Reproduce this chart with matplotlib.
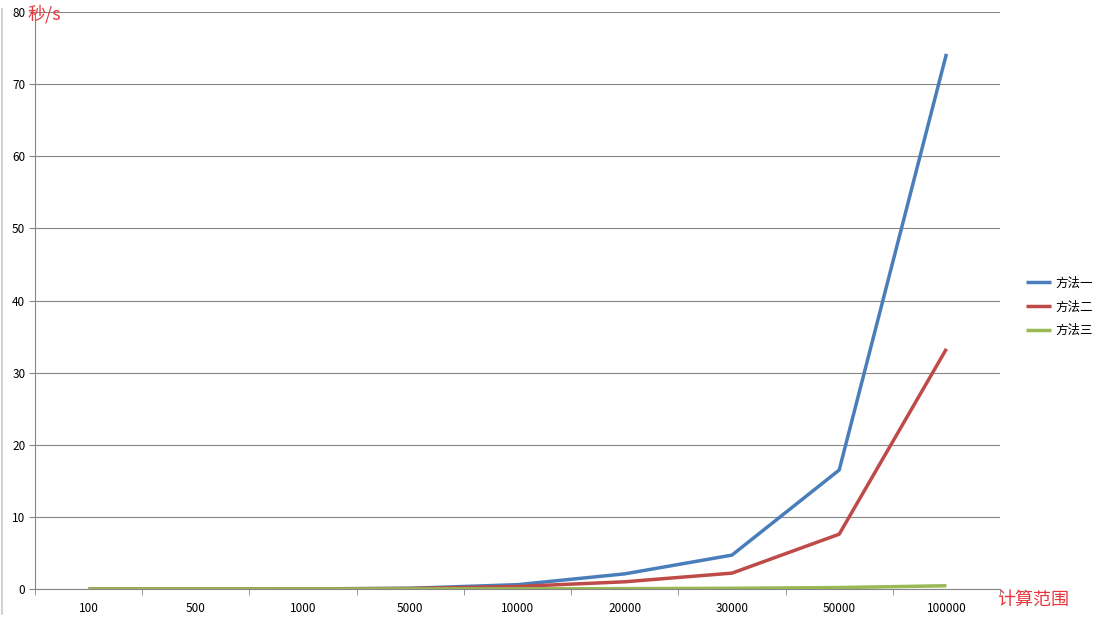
import matplotlib
matplotlib.use('Agg')
import matplotlib.pyplot as plt
from matplotlib.lines import Line2D
import numpy as np

plt.rcParams['font.family'] = ['Noto Sans CJK SC', 'DejaVu Sans']

categories = ['100', '500', '1000', '5000', '10000', '20000', '30000', '50000', '100000']
method1 = [0.0, 0.0, 0.01, 0.1, 0.6, 2.1, 4.7, 16.5, 74.2]
method2 = [0.0, 0.0, 0.01, 0.07, 0.35, 1.0, 2.2, 7.6, 33.3]
method3 = [0.0, 0.0, 0.0, 0.01, 0.02, 0.05, 0.1, 0.2, 0.45]
names = ['方法一', '方法二', '方法三']
colors = ['#4A7EBB', '#BE4B48', '#98B954']

fig = plt.figure(figsize=(11.01, 6.2), dpi=100)
ax = fig.add_axes([0.0318, 0.05, 0.9083 - 0.0318, 0.9806 - 0.05])

# left edge of the chart border
fig.lines.append(Line2D([2 / 1101, 2 / 1101], [0.01, 0.985], transform=fig.transFigure,
                        color='#c8c8c8', lw=1.2))

x = np.arange(len(categories))
for vals, name, c in zip([method1, method2, method3], names, colors):
    ax.plot(x, vals, color=c, lw=2.5, label=name, solid_capstyle='butt')

ax.set_xlim(-0.5, len(categories) - 0.5)
ax.set_ylim(0, 80)
ax.set_yticks(range(0, 81, 10))
ax.yaxis.grid(True, color='#868686', lw=0.8)
ax.set_axisbelow(True)
ax.set_xticks(x)
ax.set_xticklabels(categories)
ax.set_xticks(np.arange(-0.5, len(categories), 1), minor=True)
ax.tick_params(axis='x', which='major', length=0, pad=9, labelsize=8.5)
ax.tick_params(axis='x', which='minor', length=4, color='#868686', direction='out')
ax.tick_params(axis='y', length=4, color='#868686', labelsize=8.5, pad=3)
for s in ['top', 'right']:
    ax.spines[s].set_visible(False)
for s in ['left', 'bottom']:
    ax.spines[s].set_color('#868686')
    ax.spines[s].set_linewidth(0.8)

fig.text(27 / 1101, 1 - 14 / 620, '秒/s', color='#E8383D', fontsize=13, va='center', ha='left')
fig.text(997 / 1101, 1 - 600 / 620, '计算范围', color='#E8383D', fontsize=13, va='center', ha='left')

leg = ax.legend(loc='center left', bbox_to_anchor=(1.0155, 0.489), frameon=False, fontsize=9,
                handlelength=2.0, handletextpad=0.3, labelspacing=0.85)

fig.savefig('out.png', dpi=100)
